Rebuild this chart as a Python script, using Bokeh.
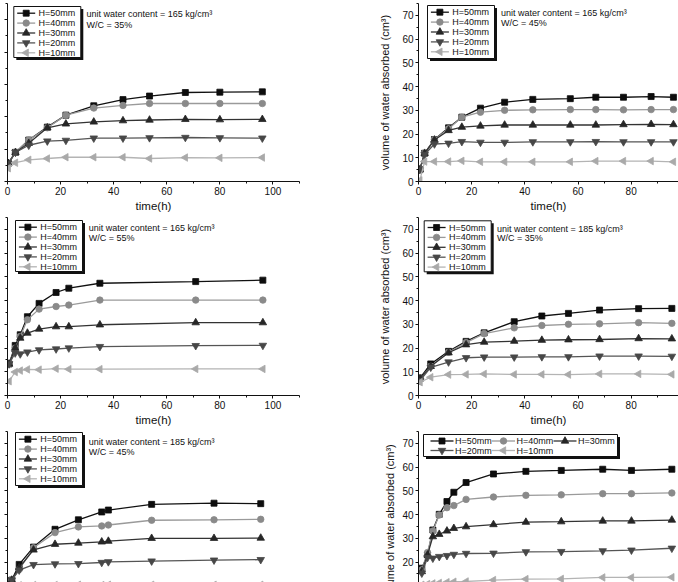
import math
from bokeh.plotting import figure
from bokeh.layouts import column, row
from bokeh.models import (SingleIntervalTicker, BoxAnnotation, Label, Range1d,
                          CustomJSTickFormatter, Title)
from bokeh.embed import file_html
from bokeh.resources import INLINE

FONT = "Liberation Sans"
series_names = ["H=50mm", "H=40mm", "H=30mm", "H=20mm", "H=10mm"]
x_label = "time(h)"
y_label = "volume of water absorbed (cm³)"

# ---- panel 1: unit water content 165, W/C 35% ----
t_165_35 = [0.3, 3, 8, 15, 22, 32.5, 43.5, 53.5, 67, 80, 96]
h50_165_35 = [5.6, 9.0, 12.8, 16.8, 20.5, 23.4, 25.3, 26.4, 27.5, 27.6, 27.7]
h40_165_35 = [5.6, 9.0, 12.8, 16.6, 20.5, 22.7, 23.5, 24.1, 24.1, 24.1, 24.1]
h30_165_35 = [5.6, 9.0, 11.8, 16.6, 17.8, 18.4, 18.8, 19.0, 19.2, 19.1, 19.2]
h20_165_35 = [5.6, 9.0, 11.2, 12.5, 12.7, 13.4, 13.4, 13.5, 13.6, 13.5, 13.4]
h10_165_35 = [4.1, 5.8, 6.7, 7.1, 7.5, 7.5, 7.5, 7.1, 7.4, 7.3, 7.4]

# ---- panel 2: unit water content 165, W/C 45% ----
t_165_45 = [0.5, 2.3, 6.0, 11.3, 16.3, 23.3, 32.4, 43.0, 57.1, 66.7, 77.1, 87.5, 95.9]
h50_165_45 = [5.0, 11.9, 17.7, 22.6, 27.1, 30.9, 33.4, 34.6, 34.9, 35.5, 35.5, 35.8, 35.5]
h40_165_45 = [5.0, 11.9, 17.7, 22.2, 27.1, 29.2, 30.0, 30.2, 30.3, 30.3, 30.2, 30.3, 30.3]
h30_165_45 = [5.0, 11.9, 17.5, 21.5, 22.9, 23.4, 23.8, 23.8, 23.8, 23.8, 24.0, 24.1, 24.0]
h20_165_45 = [5.0, 11.4, 15.8, 16.1, 16.8, 16.5, 16.5, 16.7, 16.7, 16.8, 16.7, 16.7, 16.7]
h10_165_45 = [0.5, 8.4, 8.4, 8.4, 8.7, 8.3, 8.3, 8.3, 8.3, 8.6, 8.6, 8.6, 8.3]

# ---- panel 3: unit water content 165, W/C 55% ----
t_165_55 = [0.6, 2.9, 4.8, 7.5, 11.9, 18.3, 23.1, 34.8, 70.9, 96.2]
h50_165_55 = [13.3, 21.1, 25.6, 33.2, 38.8, 43.4, 45.2, 47.3, 48.0, 48.6]
h40_165_55 = [13.3, 20.0, 24.9, 31.9, 36.4, 37.5, 38.1, 40.2, 40.2, 40.2]
h30_165_55 = [13.3, 20.0, 24.2, 26.3, 28.0, 29.0, 29.0, 29.8, 30.7, 30.7]
h20_165_55 = [13.3, 17.9, 17.5, 18.3, 19.2, 19.6, 20.0, 20.6, 21.0, 21.1]
h10_165_55 = [6.0, 9.9, 10.5, 11.0, 10.9, 11.3, 11.1, 11.1, 11.2, 11.2]

# ---- panel 4: unit water content 185, W/C 35% ----
t_185_35 = [0.6, 4.6, 11.3, 17.9, 24.7, 36.0, 46.4, 56.4, 68.1, 82.8, 95.3]
h50_185_35 = [7.4, 13.3, 18.6, 22.8, 26.4, 31.1, 33.5, 34.6, 36.0, 36.6, 36.7]
h40_185_35 = [7.0, 12.3, 18.2, 22.3, 26.1, 28.5, 29.5, 30.0, 30.2, 30.7, 30.4]
h30_185_35 = [7.0, 12.3, 18.0, 21.4, 22.5, 22.9, 23.3, 23.5, 23.6, 24.0, 23.9]
h20_185_35 = [6.3, 11.9, 14.1, 15.9, 16.2, 16.2, 16.3, 16.3, 16.6, 16.6, 16.5]
h10_185_35 = [5.6, 7.7, 8.8, 8.9, 9.1, 8.9, 8.9, 8.8, 9.1, 9.1, 8.9]

# ---- panel 5: unit water content 185, W/C 45% ----
t_185_45 = [1.6, 4.4, 9.8, 17.9, 26.7, 35.5, 38.0, 54.3, 77.8, 95.4]
h50_185_45 = [12.4, 19.0, 26.3, 33.8, 37.8, 41.1, 41.9, 44.3, 44.8, 44.6]
h40_185_45 = [12.4, 16.9, 26.0, 32.4, 34.8, 35.2, 35.6, 37.6, 37.8, 38.0]
h30_185_45 = [12.4, 17.6, 25.1, 27.5, 28.0, 28.5, 28.8, 30.0, 30.0, 30.1]
h20_185_45 = [12.4, 16.6, 18.9, 19.2, 19.3, 19.8, 20.1, 20.4, 20.8, 21.0]
h10_185_45 = [9.0, 10.2, 10.3, 10.3, 10.4, 10.3, 10.4, 10.4, 10.4, 10.4]

# ---- panel 6: unit water content 185 (no note shown) ----
t_185_55 = [1.25, 3.4, 5.4, 7.8, 10.7, 13.3, 17.9, 28.2, 40.4, 53.7, 69.3, 80.1, 95.3]
h50_185_55 = [17.4, 23.0, 33.5, 40.1, 45.5, 49.4, 53.5, 57.1, 58.2, 58.6, 59.1, 58.6, 59.1]
h40_185_55 = [16.7, 24.0, 33.1, 39.8, 42.9, 43.8, 46.4, 47.4, 48.1, 48.3, 48.8, 48.8, 49.1]
h30_185_55 = [16.0, 23.0, 30.7, 31.7, 33.1, 34.2, 34.9, 35.8, 36.8, 37.0, 37.3, 37.3, 37.7]
h20_185_55 = [15.3, 21.9, 21.6, 22.3, 22.7, 23.2, 23.6, 23.7, 24.3, 24.4, 24.7, 25.0, 25.8]
h10_185_55 = [10.4, 10.7, 11.0, 11.2, 11.5, 11.7, 11.8, 12.4, 12.8, 12.9, 13.5, 13.5, 13.6]

STYLES = [
    dict(marker="square", size=6, fill="#0d0d0d", line="#111111", angle=0.0),
    dict(marker="circle", size=6.5, fill="#8a8a8a", line="#9a9a9a", angle=0.0),
    dict(marker="triangle", size=7.5, fill="#262626", line="#333333", angle=0.0),
    dict(marker="inverted_triangle", size=7.5, fill="#474747", line="#555555", angle=0.0),
    dict(marker="triangle", size=7.5, fill="#a9a9a9", line="#b4b4b4", angle=math.pi / 2),
]


def make_panel(side, rowi, time, ys, notes, leg, y_top_range):
    left = side == "L"
    x0, x1 = (0.0, 110.0) if left else (0.0, 97.8)
    fw = 292 if left else 260
    if rowi < 2:
        fh = 178
        y0, y1 = y_top_range
    else:
        fh = 152
        y1 = 75.0
        y0 = 75.0 - 152 * 75.0 / 178
    sx = fw / (x1 - x0)
    sy = fh / (y1 - y0)

    def px(dx, dy):
        return x0 + dx / sx, y1 - dy / sy

    p = figure(frame_width=fw, frame_height=fh,
               x_range=Range1d(x0, x1), y_range=Range1d(y0, y1),
               output_backend="svg", toolbar_location=None,
               x_axis_location=("below" if rowi < 2 else None),
               min_border_left=(7 if left else 78),
               min_border_right=(41 if left else 0),
               min_border_top=3,
               min_border_bottom=(32 if rowi < 2 else 0),
               background_fill_color="white", border_fill_color="white",
               outline_line_color=None)
    p.grid.visible = False
    p.yaxis.ticker = SingleIntervalTicker(interval=10, num_minor_ticks=2)
    if rowi < 2:
        p.xaxis.ticker = SingleIntervalTicker(interval=20, num_minor_ticks=2)
        p.xaxis.axis_label = x_label
        p.xaxis.major_label_standoff = 2
        p.xaxis.axis_label_standoff = 2
    for ax in p.axis:
        ax.axis_line_color = "#111111"
        ax.axis_line_width = 1
        ax.major_tick_line_color = "#111111"
        ax.minor_tick_line_color = "#111111"
        ax.major_tick_out = 3
        ax.major_tick_in = 0
        ax.minor_tick_out = 2
        ax.minor_tick_in = 0
        ax.major_label_text_font = FONT
        ax.major_label_text_font_size = "10px"
        ax.major_label_text_color = "#111111"
        ax.axis_label_text_font = FONT
        ax.axis_label_text_font_style = "normal"
        ax.axis_label_text_font_size = "11.5px"
        ax.axis_label_text_color = "#111111"
    if left:
        p.yaxis.formatter = CustomJSTickFormatter(code="return ''")
        p.yaxis.major_label_standoff = 0
    else:
        p.yaxis.major_label_standoff = 2
        if rowi < 2:
            p.yaxis.axis_label = y_label
            p.yaxis.axis_label_standoff = 8
            p.yaxis.axis_label_text_font_size = "11px"
        else:
            # the page cuts this panel at its bottom; the label starts below
            # the visible area, as in the uncut original
            p.add_layout(Title(text=y_label, align="left", offset=-16,
                               standoff=8, text_font=FONT,
                               text_font_size="11px", text_font_style="normal",
                               text_color="#111111"), "left")

    # data
    for st, y in zip(STYLES, ys):
        p.line(time, y, line_color=st["line"], line_width=1.3)
        p.scatter(time, y, marker=st["marker"], size=st["size"],
                  fill_color=st["fill"], line_color=st["fill"],
                  line_width=0.8, angle=st["angle"])

    # notes
    if notes:
        nx, ny1, ny2 = notes["pos"]
        for txt, dy in zip(notes["text"], (ny1, ny2)):
            tx, ty = px(nx, dy)
            p.add_layout(Label(x=tx, y=ty, text=txt, text_font=FONT,
                               text_font_size="9px", text_baseline="middle",
                               text_align="left", text_color="#111111"))

    # legend (box + shadow + entries)
    bl, bt, bw, bh = leg["box"]
    sh = 2.5
    l0, t0 = px(bl + sh, bt + sh)
    r0, b0 = px(bl + bw + sh, bt + bh + sh)
    p.add_layout(BoxAnnotation(left=l0, right=r0, top=t0, bottom=b0,
                               fill_color="#111111", fill_alpha=1.0,
                               line_color=None))
    l1, t1 = px(bl, bt)
    r1, b1 = px(bl + bw, bt + bh)
    p.add_layout(BoxAnnotation(left=l1, right=r1, top=t1, bottom=b1,
                               fill_color="white", fill_alpha=1.0,
                               line_color="#111111", line_alpha=1.0, line_width=1))
    gw = leg["glyph_w"]
    for st, name, (gx, gy) in zip(STYLES, series_names, leg["items"]):
        ax0, ay = px(bl + gx, bt + gy)
        ax1, _ = px(bl + gx + gw, bt + gy)
        mx, _ = px(bl + gx + gw / 2, bt + gy)
        tx, _ = px(bl + gx + gw + leg["text_gap"], bt + gy)
        p.segment(x0=[ax0], y0=[ay], x1=[ax1], y1=[ay], line_color=st["line"],
                  line_width=1.3, level="overlay")
        p.scatter([mx], [ay], marker=st["marker"], size=st["size"],
                  fill_color=st["fill"], line_color=st["fill"], line_width=0.8,
                  angle=st["angle"], level="overlay")
        p.add_layout(Label(x=tx, y=ay, text=name, text_font=FONT,
                           text_font_size="9px", text_baseline="middle",
                           text_align="left", text_color="#111111"))
    return p


def vleg(left, top, h):
    return dict(box=(left, top, 67, h), glyph_w=18, text_gap=3.4,
                items=[(3.4, 6.7 + 9.9 * i) for i in range(5)])


hleg = dict(box=(5, 3, 194, 22), glyph_w=23, text_gap=1.5,
            items=[(7, 6.5), (68.5, 6.5), (130, 6.5), (7, 16), (68.5, 16)])

p1 = make_panel("L", 0, t_165_35,
                [h50_165_35, h40_165_35, h30_165_35, h20_165_35, h10_165_35],
                dict(pos=(79, 10.3, 21.3),
                     text=["unit water content = 165 kg/cm³", "W/C = 35%"]),
                vleg(6.3, 3, 51), (0.0, 55.0))
p2 = make_panel("R", 0, t_165_45,
                [h50_165_45, h40_165_45, h30_165_45, h20_165_45, h10_165_45],
                dict(pos=(82.4, 9.7, 19.7),
                     text=["unit water content = 165 kg/cm³", "W/C = 45%"]),
                vleg(9, 2, 53), (0.0, 75.0))
p3 = make_panel("L", 1, t_165_55,
                [h50_165_55, h40_165_55, h30_165_55, h20_165_55, h10_165_55],
                dict(pos=(81.3, 10.7, 20.0),
                     text=["unit water content = 165 kg/cm³", "W/C = 55%"]),
                vleg(8, 3, 51), (0.0, 75.0))
p4 = make_panel("R", 1, t_185_35,
                [h50_185_35, h40_185_35, h30_185_35, h20_185_35, h10_185_35],
                dict(pos=(78.4, 11.3, 20.7),
                     text=["unit water content = 185 kg/cm³", "W/C = 35%"]),
                vleg(5.7, 3.3, 51), (0.0, 75.0))
p5 = make_panel("L", 2, t_185_45,
                [h50_185_45, h40_185_45, h30_185_45, h20_185_45, h10_185_45],
                dict(pos=(81.3, 10.7, 20.7),
                     text=["unit water content = 185 kg/cm³", "W/C = 45%"]),
                vleg(8, 1, 53), None)
p6 = make_panel("R", 2, t_185_55,
                [h50_185_55, h40_185_55, h30_185_55, h20_185_55, h10_185_55],
                None, hleg, None)

layout = column(row(p1, p2), row(p3, p4), row(p5, p6))
open("out.html", "w").write(file_html(layout, INLINE))
